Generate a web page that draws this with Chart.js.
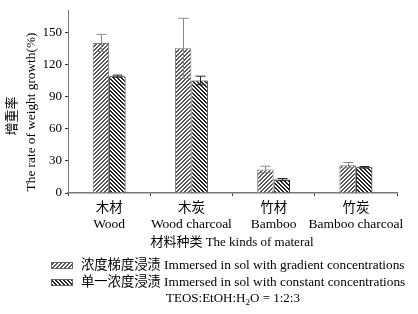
<!DOCTYPE html>
<html>
<head>
<meta charset="utf-8">
<script src="https://cdn.jsdelivr.net/npm/chart.js@4"></script>
<style>
  html, body { margin: 0; padding: 0; background: #fff; }
  #wrap { width: 418px; height: 314px; position: relative; }
</style>
</head>
<body>
<div id="wrap"><canvas id="chart" width="418" height="314"></canvas></div>
<script>
const categories = [['木材', 'Wood'], ['木炭', 'Wood charcoal'], ['竹材', 'Bamboo'], ['竹炭', 'Bamboo charcoal']];
const gradientValues = [140, 135, 22, 26];
const gradientErrors = [8, 28, 3, 2.5];
const constantValues = [109, 105, 12.5, 24];
const constantErrors = [1, 4, 1, 0.7];
const yTicks = [0, 30, 60, 90, 120, 150];
const seriesNames = ['浓度梯度浸渍 Immersed in sol with gradient concentrations', '单一浓度浸渍 Immersed in sol with constant concentrations'];

const FONT = '"Liberation Serif", "Noto Sans CJK SC", serif';
const canvas = document.getElementById('chart');
const ctx = canvas.getContext('2d');

// hatch patterns: dir 1 = "////", dir -1 = "\\\\"
function hatch(dir, color) {
    const c = document.createElement('canvas');
    c.width = c.height = 4;
    const g = c.getContext('2d');
    g.fillStyle = '#fff';
    g.fillRect(0, 0, 4, 4);
    g.fillStyle = color;
    for (let x = 0; x < 4; x++) {
        const y = dir > 0 ? 3 - x : x;
        g.fillRect(x, y, 1, 1);
        g.fillRect(x, (y + 1) % 4, 1, 1);
    }
    return ctx.createPattern(c, 'repeat');
}
const gradPattern = hatch(1, '#555');
const constPattern = hatch(-1, '#222');

const extras = {
    id: 'extras',
    afterDatasetsDraw(chart) {
        const c = chart.ctx, y = chart.scales.y;
        [gradientErrors, constantErrors].forEach((errs, i) => {
            const meta = chart.getDatasetMeta(i);
            const vals = chart.data.datasets[i].data;
            c.save();
            c.strokeStyle = i === 0 ? '#888' : '#222';
            c.lineWidth = 1;
            meta.data.forEach((bar, j) => {
                const top = y.getPixelForValue(vals[j] + errs[j]);
                const bot = y.getPixelForValue(vals[j] - errs[j]);
                const x = Math.round(bar.x) + 0.5;
                c.beginPath();
                c.moveTo(x, top); c.lineTo(x, bot);
                c.moveTo(x - 5, top); c.lineTo(x + 5, top);
                c.moveTo(x - 5, bot); c.lineTo(x + 5, bot);
                c.stroke();
            });
            c.restore();
        });
    },
    afterDraw(chart) {
        const c = chart.ctx;
        c.save();
        c.fillStyle = '#000';
        c.textAlign = 'center';
        c.textBaseline = 'middle';
        c.font = '13px ' + FONT;
        // y title
        c.save();
        c.translate(13, 116);
        c.rotate(-Math.PI / 2);
        c.fillText('增重率', 0, 0);
        c.restore();
        c.save();
        c.translate(32, 112);
        c.rotate(-Math.PI / 2);
        c.font = '13.3px ' + FONT;
        c.fillText('The rate of weight growth(%)', 0, 0);
        c.restore();
        // x title
        c.fillText('材料种类 The kinds of materal', 232, 243);
        // legend
        c.textAlign = 'left';
        c.font = '13.3px ' + FONT;
        [gradPattern, constPattern].forEach((p, i) => {
            const ly = 262 + i * 17;
            c.fillStyle = p;
            c.fillRect(51, ly, 22, 7);
            c.strokeStyle = '#666';
            c.strokeRect(51.5, ly + 0.5, 21, 6);
            c.fillStyle = '#000';
            c.fillText(seriesNames[i], 81, ly + 3.5);
        });
        // formula
        c.font = '13px ' + FONT;
        const a = 'TEOS:EtOH:H', b = 'O = 1:2:3';
        const wa = c.measureText(a).width, wb = c.measureText(b).width;
        c.font = '9px ' + FONT;
        const ws = c.measureText('2').width;
        let x0 = 233 - (wa + ws + wb) / 2;
        c.font = '13px ' + FONT;
        c.fillText(a, x0, 299);
        c.font = '9px ' + FONT;
        c.fillText('2', x0 + wa, 303);
        c.font = '13px ' + FONT;
        c.fillText(b, x0 + wa + ws, 299);
        c.restore();
    }
};

new Chart(ctx, {
    type: 'bar',
    data: {
        labels: categories,
        datasets: [{
            label: seriesNames[0],
            data: gradientValues,
            backgroundColor: gradPattern,
            borderColor: '#777',
            borderWidth: 1
        }, {
            label: seriesNames[1],
            data: constantValues,
            backgroundColor: constPattern,
            borderColor: '#111',
            borderWidth: 1
        }]
    },
    options: {
        responsive: false,
        animation: false,
        layout: { padding: { left: 0, top: 5, right: 21, bottom: 0 } },
        datasets: { bar: { categoryPercentage: 0.4, barPercentage: 1.0 } },
        plugins: { legend: { display: false }, tooltip: { enabled: false } },
        scales: {
            x: {
                afterFit: s => { s.height = 121; },
                grid: { display: true, drawOnChartArea: false, offset: true, tickLength: 3, color: '#333' },
                border: { color: '#777', width: 1.5 },
                ticks: { color: '#000', padding: 4, autoSkip: false, font: { family: FONT, size: 13.5, lineHeight: 1.2 }, maxRotation: 0 }
            },
            y: {
                min: 0,
                max: 170,
                afterFit: s => { s.width = 68; },
                afterBuildTicks: s => { s.ticks = yTicks.map(v => ({ value: v })); },
                grid: { display: true, drawOnChartArea: false, tickLength: 3, color: '#333' },
                border: { color: '#777', width: 1 },
                ticks: { color: '#000', padding: 3, font: { family: FONT, size: 13 } }
            }
        }
    },
    plugins: [extras]
});
</script>
</body>
</html>
